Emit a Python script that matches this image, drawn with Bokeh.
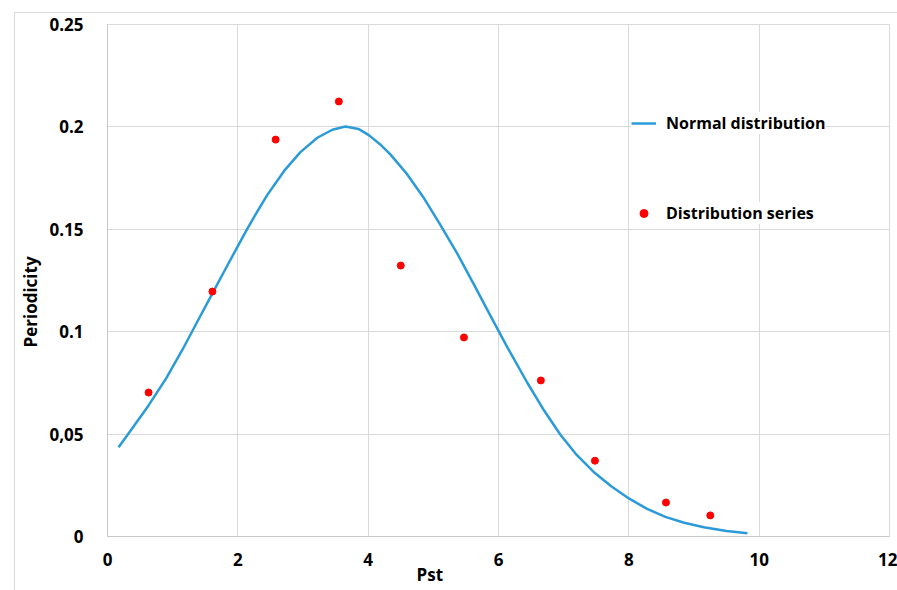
from bokeh.plotting import figure
from bokeh.models import Range1d, FixedTicker, Legend, LegendItem, Title
from bokeh.embed import file_html
from bokeh.resources import INLINE

# Data
series_x = [0.63, 1.61, 2.58, 3.55, 4.50, 5.47, 6.65, 7.48, 8.57, 9.25]
series_y = [0.0703, 0.1196, 0.1938, 0.2124, 0.1323, 0.0972, 0.0762, 0.0370, 0.0166, 0.0103]

curve_x = [0.17, 0.40, 0.63, 0.90, 1.15, 1.40, 1.61, 1.80, 2.00, 2.14, 2.30, 2.45, 2.71,
           2.96, 3.22, 3.45, 3.65, 3.85, 4.01, 4.20, 4.34, 4.60, 4.86, 5.11, 5.37, 5.62,
           5.80, 5.99, 6.13, 6.44, 6.70, 6.95, 7.20, 7.46, 7.73, 8.00, 8.28, 8.56, 8.85,
           9.15, 9.50, 9.82]
curve_y = [0.0436, 0.0537, 0.0640, 0.0772, 0.0912, 0.1062, 0.1187, 0.1300, 0.1418, 0.1500,
           0.1588, 0.1667, 0.1785, 0.1877, 0.1947, 0.1986, 0.2002, 0.1990, 0.1960, 0.1910,
           0.1866, 0.1768, 0.1650, 0.1520, 0.1380, 0.1232, 0.1124, 0.1010, 0.0927, 0.0752,
           0.0615, 0.0497, 0.0398, 0.0315, 0.0245, 0.0186, 0.0135, 0.0096, 0.0067, 0.0045,
           0.0027, 0.0016]

x_ticks = [0, 2, 4, 6, 8, 10, 12]
y_ticks = [0, 0.05, 0.1, 0.15, 0.2, 0.25]
y_tick_labels = ["0", "0,05", "0.1", "0.15", "0.2", "0.25"]

x_title = "Pst"
y_title = "Periodicity"
line_name = "Normal distribution"
points_name = "Distribution series"

FONT = "Open Sans"
GRID = "#d9d9d9"
BLUE = "#2b9bd8"
RED = "#ff0000"

frame_css = {
    "background-color": "white",
    "background-image": "linear-gradient(#d9d9d9, #d9d9d9), linear-gradient(#d9d9d9, #d9d9d9)",
    "background-size": "100% 1px, 1px 100%",
    "background-position": "14px 12px, 14px 12px",
    "background-repeat": "no-repeat",
}

p = figure(width=897, height=590, output_backend="svg", toolbar_location=None,
           x_range=Range1d(0, 12), y_range=Range1d(0, 0.25),
           min_border_left=107, min_border_right=8, min_border_top=24, min_border_bottom=54,
           styles=frame_css)
p.background_fill_color = "white"
p.border_fill_color = None
p.outline_line_color = GRID

p.xaxis.ticker = FixedTicker(ticks=x_ticks)
p.yaxis.ticker = FixedTicker(ticks=y_ticks)
p.yaxis.major_label_overrides = {t: s for t, s in zip(y_ticks, y_tick_labels)}
p.xaxis.major_label_overrides = {t: str(t) for t in x_ticks}
for ax in (p.xaxis, p.yaxis):
    ax.axis_line_color = "#c8c8c8"
    ax.major_tick_line_color = None
    ax.minor_tick_line_color = None
    ax.major_label_text_font = FONT
    ax.major_label_text_font_style = "bold"
    ax.major_label_text_font_size = "17px"
    ax.major_label_text_color = "#000000"
p.xaxis.major_label_standoff = 10
p.yaxis.major_label_standoff = 18

p.xgrid.ticker = FixedTicker(ticks=x_ticks)
p.ygrid.ticker = FixedTicker(ticks=y_ticks)
p.xgrid.grid_line_color = GRID
p.ygrid.grid_line_color = GRID


def side_title(text, offset, standoff):
    return Title(text=text, align="left", offset=offset, standoff=standoff,
                 text_font=FONT, text_font_style="bold", text_font_size="17px",
                 text_color="#000000")


p.add_layout(side_title(x_title, 309, -34), "below")
p.add_layout(side_title(y_title, 189, 9), "left")

r_line = p.line(curve_x, curve_y, line_color=BLUE, line_width=2.5, line_join="round")
r_pts = p.scatter(series_x, series_y, size=7, fill_color=RED, line_color=RED)


def make_legend(label, renderer, loc):
    return Legend(items=[LegendItem(label=label, renderers=[renderer])], location=loc,
                  padding=0, margin=0, spacing=0, border_line_color=None,
                  background_fill_color="white", background_fill_alpha=1.0,
                  glyph_width=25, glyph_height=20, label_standoff=10, label_height=20,
                  label_text_font=FONT, label_text_font_style="bold",
                  label_text_font_size="16px", label_text_color="#000000")


p.add_layout(make_legend(line_name, r_line, (524, 402)))
p.add_layout(make_legend(points_name, r_pts, (524, 312)))

open("out.html", "w").write(file_html(p, INLINE))
